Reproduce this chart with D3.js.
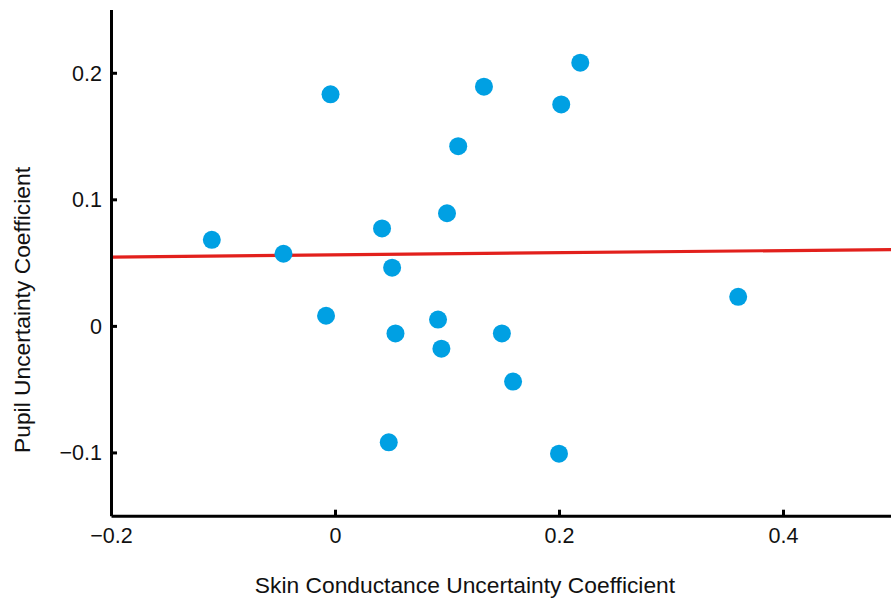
<!DOCTYPE html>
<html>
<head>
<meta charset="utf-8">
<script src="https://cdn.jsdelivr.net/npm/d3@7.9.0/dist/d3.min.js"></script>
<style>
  body { margin: 0; background: #fff; }
  svg { display: block; font-family: "Liberation Sans", Arial, Helvetica, sans-serif; }
</style>
</head>
<body>
<svg id="chart" width="891" height="603"></svg>
<script>
// skin conductance coefficient (x) vs pupil coefficient (y), one per subject
const skinCoef = [-0.110, -0.046, -0.004, -0.008, 0.042, 0.051, 0.054, 0.048, 0.100, 0.110,
                  0.092, 0.095, 0.133, 0.149, 0.159, 0.202, 0.219, 0.200, 0.360];
const pupilCoef = [0.068, 0.057, 0.183, 0.008, 0.077, 0.046, -0.006, -0.092, 0.089, 0.142,
                   0.005, -0.018, 0.189, -0.006, -0.044, 0.175, 0.208, -0.101, 0.023];
// fitted line
const fitIntercept = 0.0561;
const fitSlope = 0.0085;

const xTicks = [-0.2, 0, 0.2, 0.4];
const yTicks = [-0.1, 0, 0.1, 0.2];

const svg = d3.select('#chart');

const x = d3.scaleLinear().domain([-0.2, 0.5]).range([111, 895]);
const y = d3.scaleLinear().domain([-0.15, 0.25]).range([515.7, 9.5]);

const fmt = (d) => d === 0 ? '0' : d3.format('.1f')(d);

// regression line
const xs = x.domain();
svg.append('line')
  .attr('x1', x(xs[0])).attr('y1', y(fitIntercept + fitSlope * xs[0]))
  .attr('x2', x(xs[1])).attr('y2', y(fitIntercept + fitSlope * xs[1]))
  .attr('stroke', '#e2201c')
  .attr('stroke-width', 3.2);

// points
svg.append('g')
  .selectAll('circle')
  .data(skinCoef.map((d, i) => [d, pupilCoef[i]]))
  .join('circle')
  .attr('cx', (d) => x(d[0]))
  .attr('cy', (d) => y(d[1]))
  .attr('r', 9)
  .attr('fill', '#00a0e3');

// axes: ticks point inward
const xAxis = d3.axisBottom(x).tickValues(xTicks).tickFormat(fmt)
  .tickSizeInner(-6).tickSizeOuter(0).tickPadding(12);
const yAxis = d3.axisLeft(y).tickValues(yTicks).tickFormat(fmt)
  .tickSizeInner(-6).tickSizeOuter(0).tickPadding(9);

const gx = svg.append('g').attr('transform', `translate(0,${y(-0.15)})`).call(xAxis);
const gy = svg.append('g').attr('transform', `translate(${x(-0.2)},0)`).call(yAxis);

[gx, gy].forEach((g) => {
  g.select('.domain').attr('stroke', '#000').attr('stroke-width', 3);
  g.selectAll('.tick line').attr('stroke', '#000').attr('stroke-width', 3);
  g.selectAll('.tick text').attr('fill', '#111').attr('font-size', 21.5);
});
gy.selectAll('.tick text').attr('dy', '0.35em');

svg.append('text')
  .attr('x', 465).attr('y', 593)
  .attr('text-anchor', 'middle')
  .attr('font-size', 22.8)
  .attr('fill', '#111')
  .text('Skin Conductance Uncertainty Coefficient');

svg.append('text')
  .attr('transform', 'translate(30,310) rotate(-90)')
  .attr('text-anchor', 'middle')
  .attr('font-size', 22.8)
  .attr('fill', '#111')
  .text('Pupil Uncertainty Coefficient');
</script>
</body>
</html>
